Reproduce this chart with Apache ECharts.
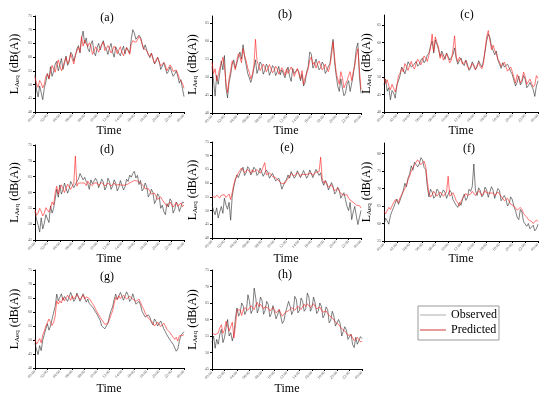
<!DOCTYPE html>
<html><head><meta charset="utf-8">
<script src="https://cdn.jsdelivr.net/npm/echarts@6/dist/echarts.min.js"></script>
<style>html,body{margin:0;padding:0;background:#fff}#c{width:550px;height:397px}</style>
</head><body><div id="c"></div>
<script>
// x tick labels (every 2 hours); readings every 15 minutes
const timeLabels = ['00:00','02:00','04:00','06:00','08:00','10:00','12:00','14:00','16:00','18:00','20:00','22:00','00:00'];
const sampleStepHours = 0.25;

const obsA  = [53.5,48.0,45.5,49.5,47.0,44.5,48.8,51.0,54.0,52.0,56.5,53.0,54.8,57.5,58.5,55.0,57.2,59.5,55.5,57.8,60.4,57.0,58.2,61.8,61.0,58.5,60.5,63.0,64.2,61.5,66.8,69.5,65.0,67.0,63.2,62.0,64.8,66.0,61.8,60.5,63.4,65.0,62.6,64.5,66.0,63.8,62.9,61.0,63.5,65.0,61.8,60.0,63.8,62.5,62.0,60.5,62.4,64.0,61.2,63.5,63.0,61.5,66.5,70.0,68.8,66.5,66.0,68.0,67.2,65.0,62.8,64.5,62.5,61.0,59.8,61.5,59.6,57.5,58.4,60.0,58.5,55.5,56.0,58.0,57.4,54.0,54.8,56.5,56.6,53.0,53.8,55.0,53.0,50.5,51.8,48.5,45.6];
const predA = [52.8,50.2,49.0,51.5,50.5,48.8,50.2,53.0,53.9,52.2,54.8,57.0,56.4,54.5,57.2,59.0,58.8,55.0,56.4,58.5,59.9,57.6,58.9,61.2,60.6,57.5,60.8,62.2,63.6,62.0,67.5,64.0,66.1,64.8,63.8,65.2,64.2,61.0,62.0,63.8,63.0,61.8,63.2,64.6,65.5,62.4,63.2,64.2,63.0,61.5,62.6,64.0,63.0,61.2,62.6,63.8,61.8,60.5,62.0,63.5,62.4,61.0,64.6,66.0,66.7,65.4,66.3,67.5,66.7,64.8,63.2,63.8,62.4,61.0,60.2,61.4,59.4,57.8,59.0,59.8,58.2,56.8,56.5,58.0,57.0,55.0,55.4,57.2,56.4,54.8,54.2,55.3,54.0,52.2,52.3,50.5,48.6];

const obsB  = [53.0,49.0,44.7,50.5,48.0,51.0,54.5,52.0,56.0,47.0,44.2,48.5,50.6,53.5,54.8,52.5,53.8,55.5,57.0,55.0,59.0,55.5,53.4,51.0,49.8,48.5,50.0,52.5,54.8,51.0,52.4,54.2,53.5,50.8,51.8,53.6,52.8,50.5,51.6,53.2,52.6,50.4,51.4,53.0,50.6,52.0,52.4,49.8,51.6,52.8,50.2,48.8,52.4,51.0,50.6,52.2,51.4,49.0,50.8,47.5,48.5,51.5,53.0,57.0,56.4,52.5,53.4,55.0,54.5,52.0,52.6,54.2,53.4,51.0,51.8,53.0,53.8,57.5,60.5,54.0,50.5,47.5,46.0,49.5,47.0,44.8,45.5,48.0,49.0,46.0,46.5,50.5,54.0,58.0,59.5,50.0,45.5];
const predB = [54.2,51.0,52.3,49.0,50.4,52.5,53.7,55.5,53.2,48.5,45.7,49.5,51.8,54.5,53.7,52.0,54.6,56.5,55.6,54.0,57.9,56.0,54.6,52.5,51.3,49.5,50.8,53.0,60.5,54.5,53.2,51.8,52.7,53.6,52.7,51.5,52.3,53.5,52.3,51.2,51.8,53.0,52.3,50.8,51.3,52.6,51.8,50.5,52.3,51.0,50.8,52.8,51.8,50.2,51.3,52.4,50.8,49.5,51.8,48.0,49.9,51.0,52.3,54.8,55.6,53.5,54.2,52.5,53.7,54.5,53.2,52.0,52.7,53.6,52.3,51.5,53.2,56.0,59.8,55.5,51.3,49.5,48.0,51.5,49.9,47.0,47.5,49.0,50.4,51.5,49.0,51.5,53.2,56.0,57.9,52.0,46.6];

const obsC  = [47.8,49.5,46.0,47.0,43.5,46.2,45.5,44.0,47.8,49.0,50.5,53.0,52.2,51.0,52.6,54.5,54.2,53.0,52.5,53.8,54.6,53.2,53.8,55.0,55.6,54.2,55.0,56.4,57.0,59.0,60.5,57.0,60.8,59.5,58.0,56.0,57.6,56.5,55.2,57.0,56.0,55.0,54.6,56.5,58.5,55.5,53.8,54.8,55.6,54.0,53.4,55.0,53.8,52.0,52.6,54.5,53.6,52.2,53.0,54.8,53.8,53.0,54.8,57.5,60.5,62.5,61.5,59.0,58.5,56.5,57.6,55.0,53.8,52.6,54.2,53.0,52.5,53.8,52.8,51.6,50.8,49.0,47.5,48.5,50.4,47.8,48.6,50.5,49.5,47.0,47.6,48.5,49.0,46.5,44.5,47.5,49.0];
const predC = [49.7,48.2,49.3,47.5,46.4,48.0,46.9,45.8,47.3,50.5,51.2,52.5,51.6,54.0,53.1,52.0,53.5,54.6,53.1,52.4,54.0,55.2,54.5,53.6,55.0,56.2,55.5,54.6,56.4,58.5,62.5,57.5,61.7,60.0,58.8,55.5,56.9,55.0,55.9,56.8,55.5,54.2,55.0,58.0,62.0,56.0,54.5,55.8,55.0,53.8,54.0,54.8,53.1,52.4,53.1,54.0,53.1,52.2,53.5,54.2,53.1,52.5,54.0,58.0,61.7,63.5,60.7,58.0,59.3,57.8,56.9,55.2,54.5,53.2,53.5,54.4,53.1,51.8,52.1,53.0,51.6,50.0,48.3,50.8,49.7,48.4,49.3,51.5,50.2,48.0,48.3,49.5,48.3,47.2,47.8,50.5,49.7];

const obsD  = [54.0,51.5,49.8,47.5,52.0,48.5,50.3,53.0,52.5,50.5,55.8,53.5,55.0,58.0,61.0,58.5,62.4,59.5,60.8,63.0,62.6,59.8,61.2,63.5,63.0,61.5,61.0,63.5,64.2,66.0,65.7,64.0,64.8,63.5,62.8,61.0,64.0,62.8,62.2,64.5,63.6,61.5,62.0,64.2,63.4,60.8,61.8,64.5,63.4,61.0,62.0,64.0,63.0,60.5,61.6,63.8,63.2,60.8,61.8,64.2,63.5,65.5,64.8,66.0,66.7,64.6,65.4,62.5,63.8,60.5,61.2,63.0,61.8,58.6,59.4,61.0,60.0,56.5,57.6,59.6,58.8,55.0,56.0,54.0,53.0,56.5,55.4,58.0,57.2,53.5,54.6,57.0,56.2,54.0,55.4,57.0,56.8];
const predD = [54.5,52.8,53.5,55.0,54.0,52.6,53.5,55.2,54.5,53.8,55.1,57.0,56.1,60.0,62.0,59.5,61.4,62.4,62.0,60.0,61.4,62.6,62.0,61.0,62.0,62.8,71.5,62.0,63.0,62.4,63.0,63.6,63.0,62.2,63.6,62.8,63.0,62.2,63.0,63.5,63.0,62.2,62.7,63.2,62.7,62.0,62.5,63.0,62.7,62.0,62.5,63.0,62.3,61.8,62.5,62.8,62.3,61.8,62.3,62.9,62.7,63.0,63.3,63.6,63.8,64.0,63.6,63.4,63.0,62.4,62.0,61.2,60.9,61.2,60.4,59.5,59.3,59.8,58.8,57.8,58.3,58.6,57.7,57.0,56.7,55.6,56.1,57.0,56.7,55.4,56.1,56.8,55.6,56.2,56.7,55.5,56.1];

const obsE  = [52.2,50.0,48.5,51.0,47.3,49.5,51.5,49.0,54.5,52.0,50.5,53.0,46.5,55.0,58.6,61.0,63.0,62.0,63.6,64.8,65.8,62.8,63.8,66.0,65.2,63.0,64.0,65.8,65.0,62.8,63.6,65.5,65.2,62.5,63.0,64.8,64.0,61.8,62.4,63.6,63.2,60.8,61.0,61.8,60.2,57.8,58.4,60.5,61.4,63.0,61.8,64.2,63.8,61.8,62.6,64.5,63.8,62.0,62.6,64.6,63.9,61.8,62.8,64.8,64.4,62.0,62.6,65.0,64.5,62.8,63.8,60.5,59.2,61.0,60.0,57.5,58.0,60.2,58.8,56.0,56.8,58.5,57.4,54.5,55.6,56.5,54.0,51.5,50.0,53.0,46.7,49.5,51.5,48.0,44.9,47.5,50.0];
const predE = [55.2,54.5,54.8,55.6,55.2,54.6,55.6,56.2,55.8,54.8,55.2,56.0,54.0,56.5,59.4,61.5,62.5,63.8,64.3,65.5,64.9,63.8,64.3,65.0,64.5,63.6,64.9,64.0,64.3,65.0,64.3,63.6,64.5,64.0,67.5,63.0,63.3,63.8,63.1,62.4,62.5,62.0,61.9,60.8,60.7,59.8,59.4,60.0,60.7,61.8,62.5,63.5,63.1,62.6,63.3,63.8,63.1,62.5,63.3,63.9,63.1,62.6,63.3,64.0,63.7,62.8,63.1,64.0,63.7,64.2,69.5,61.5,60.0,60.8,59.4,58.6,58.8,59.4,58.2,57.2,57.6,58.2,57.0,56.2,56.4,55.6,55.2,55.8,54.6,53.8,54.0,53.0,52.8,52.0,51.5,51.8,50.9];

const obsF  = [59.7,61.5,60.8,59.8,62.2,63.5,64.6,65.8,67.0,65.5,66.6,68.0,69.4,71.5,70.5,73.0,74.2,76.5,75.2,77.5,78.0,76.2,77.0,78.8,78.2,76.0,75.4,70.5,67.6,69.8,69.0,67.2,67.8,69.8,69.2,67.4,67.9,69.6,69.0,67.2,67.6,69.5,68.8,66.8,67.0,65.2,64.6,66.0,65.2,67.0,68.4,66.6,67.4,69.8,69.2,70.5,77.0,69.5,68.0,70.2,69.4,67.6,68.2,70.4,69.6,67.5,68.0,70.5,69.5,67.2,67.6,70.0,69.4,66.5,66.2,68.0,67.0,65.0,65.8,67.6,66.8,64.8,63.6,61.8,61.1,64.0,63.2,60.5,61.0,59.2,60.0,58.5,58.2,59.5,57.9,58.5,59.8];
const predF = [63.5,62.8,63.3,64.6,64.0,65.0,65.4,66.8,66.3,66.0,67.3,68.2,68.7,70.0,71.1,72.5,73.5,75.0,75.9,76.8,77.3,78.2,77.8,76.8,77.3,77.8,76.3,72.0,68.7,67.6,68.2,69.2,68.7,67.8,68.4,69.0,68.7,67.8,68.2,69.0,73.5,67.8,68.2,68.8,67.8,66.5,65.9,65.0,66.3,67.2,67.8,68.6,68.0,67.6,68.4,69.2,68.7,68.0,68.7,69.4,68.7,68.0,68.7,69.4,68.7,68.2,68.7,69.2,68.7,68.0,68.2,69.0,68.7,67.8,67.3,66.5,66.3,67.2,66.8,65.5,65.9,65.0,64.9,63.8,63.5,64.6,64.0,62.8,62.5,61.8,61.1,61.6,60.6,60.0,60.1,61.0,60.6];

const obsG  = [48.8,46.5,44.8,48.0,46.2,50.0,52.0,54.0,55.8,53.5,55.0,57.5,57.8,62.0,66.4,64.0,65.2,66.5,64.2,65.5,66.0,63.8,64.4,67.0,66.8,63.8,64.6,66.8,66.6,63.8,64.2,66.5,65.8,63.5,64.6,63.0,63.0,61.8,61.0,60.0,59.2,58.0,57.0,55.0,55.2,54.0,54.0,56.0,58.6,60.5,61.8,64.5,66.4,64.5,65.0,67.0,66.8,64.2,64.8,67.2,66.0,63.8,64.6,66.5,66.2,62.8,63.2,63.8,62.4,60.2,59.8,58.2,57.6,59.0,58.2,56.2,55.4,57.5,56.6,55.0,54.8,56.8,56.2,54.0,53.8,51.8,52.2,50.0,50.5,48.5,49.0,46.0,46.8,49.5,51.6,52.0,53.0];
const predG = [50.2,48.5,47.8,50.5,49.0,51.8,53.2,55.0,54.4,57.5,56.8,55.2,56.2,58.5,64.0,62.8,64.0,63.2,65.2,64.0,64.6,66.0,65.2,64.2,65.8,64.6,65.2,66.2,65.8,64.4,65.2,66.0,64.6,65.4,65.8,64.8,64.0,63.0,62.2,61.0,60.4,59.0,58.6,57.2,56.8,55.6,55.0,56.0,57.4,59.0,60.4,63.0,65.2,64.4,65.8,64.8,65.2,66.0,65.8,64.6,64.6,65.6,65.8,64.6,65.2,63.8,64.0,64.6,63.4,62.0,61.0,59.6,58.6,57.8,57.4,56.8,56.2,55.0,55.6,56.4,55.8,54.8,55.3,56.0,55.0,53.8,53.2,52.6,52.0,51.0,50.2,51.0,49.6,51.5,50.8,51.6,52.0];

const obsH  = [53.0,55.0,51.3,54.0,52.5,55.5,57.0,53.0,54.5,57.5,60.0,55.0,56.0,53.5,55.5,60.5,63.5,61.0,62.0,65.0,64.0,61.5,62.6,67.5,65.5,61.8,63.0,69.5,66.5,62.0,63.4,66.8,65.8,61.6,62.8,65.5,64.6,60.8,61.8,64.2,63.8,60.2,61.4,63.0,62.8,58.8,59.6,62.0,62.2,65.5,64.0,61.5,62.6,67.0,66.0,62.0,62.8,66.5,65.5,62.5,63.2,68.0,66.8,62.5,63.6,66.8,65.0,61.8,62.6,65.0,64.0,60.5,61.4,63.8,63.0,59.0,59.8,62.5,61.0,58.0,57.6,60.0,58.8,55.0,55.6,57.8,56.8,54.0,53.6,55.5,52.4,51.5,54.6,52.5,52.0,54.8,54.2];
const predH = [55.9,55.6,55.4,55.8,55.9,57.5,58.4,55.8,56.9,59.5,58.9,56.5,57.9,59.2,54.4,58.0,62.9,63.5,62.9,61.2,62.9,63.6,63.4,62.8,63.4,64.2,63.9,63.0,64.4,65.2,63.9,64.6,64.4,63.2,63.9,64.5,63.4,62.6,62.9,63.6,62.9,62.0,62.4,63.0,61.9,61.0,61.4,62.2,61.9,62.6,62.9,63.6,63.4,62.8,63.4,64.0,63.6,63.0,63.9,64.6,63.9,64.8,64.4,63.6,64.2,64.8,63.9,63.2,63.4,63.8,62.9,62.2,62.4,62.6,61.9,61.2,60.9,60.5,59.9,59.2,58.9,58.5,57.9,57.2,56.9,56.5,55.9,55.2,54.9,55.4,54.4,53.6,53.9,54.6,53.9,53.2,53.4];

const panelLabels = ['(a)','(b)','(c)','(d)','(e)','(f)','(g)','(h)'];
const observedSets = [obsA,obsB,obsC,obsD,obsE,obsF,obsG,obsH];
const predictedSets = [predA,predB,predC,predD,predE,predF,predG,predH];
const yMins = [40,40,40,45,40,55,40,45];
const yMaxs = [75,67,68,75,75,83,75,75];

// layout (pixels)
const layout = [
  {grid:{left:35,top:16,width:149,height:96}, gap:14, title:[107,18], time:[109,131]},
  {grid:{left:212,top:16,width:149,height:97}, gap:13, title:[285,15], time:[286,131]},
  {grid:{left:384,top:15,width:154,height:97}, gap:5, title:[467,15], time:[461,131]},
  {grid:{left:35,top:145,width:149,height:95}, gap:14, title:[107,150], time:[109,259]},
  {grid:{left:212,top:142,width:149,height:96}, gap:13, title:[287,148], time:[286,259]},
  {grid:{left:384,top:143,width:154,height:98}, gap:5, title:[469,149], time:[461,259]},
  {grid:{left:35,top:270,width:149,height:98}, gap:14, title:[107,277], time:[109,389]},
  {grid:{left:212,top:270,width:150,height:99}, gap:13, title:[285,275], time:[287,389]}
];

const serif = 'Liberation Serif';
const grids = [], xAxes = [], yAxes = [], series = [], graphics = [];
layout.forEach((L, i) => {
  grids.push(L.grid);
  xAxes.push({
    type:'value', gridIndex:i, min:0, max:24, interval:2,
    axisLine:{show:true, lineStyle:{color:'#000', width:1}},
    axisTick:{show:true, length:2, lineStyle:{color:'#000'}},
    splitLine:{show:false},
    axisLabel:{rotate:45, fontSize:4, color:'#555', margin:3, fontFamily:serif,
      formatter: v => timeLabels[Math.round(v/2)]}
  });
  yAxes.push({
    type:'value', gridIndex:i, min:yMins[i], max:yMaxs[i], interval:5,
    axisLine:{show:true, lineStyle:{color:'#000', width:1}},
    axisTick:{show:true, length:2, lineStyle:{color:'#000'}},
    splitLine:{show:false},
    axisLabel:{fontSize:4, color:'#555', margin:3, fontFamily:serif, showMaxLabel: (yMaxs[i]-yMins[i])%5===0},
    name:'{m|L}{s|Aeq}{m| (dB(A))}', nameLocation:'middle', nameGap:L.gap, nameRotate:90,
    nameTextStyle:{rich:{m:{fontSize:12, fontFamily:serif, color:'#000'}, s:{fontSize:7, fontFamily:serif, color:'#000', verticalAlign:'bottom'}}}
  });
  series.push({
    name:'Observed', type:'line', xAxisIndex:i, yAxisIndex:i, symbol:'none', silent:true,
    lineStyle:{color:'#2a2a2a', width:0.6}, itemStyle:{color:'#2a2a2a'},
    data: observedSets[i].map((v,k)=>[k*sampleStepHours, v])
  });
  series.push({
    name:'Predicted', type:'line', xAxisIndex:i, yAxisIndex:i, symbol:'none', silent:true,
    lineStyle:{color:'#ff1a1a', width:0.6}, itemStyle:{color:'#ff1a1a'},
    data: predictedSets[i].map((v,k)=>[k*sampleStepHours, v])
  });
  graphics.push({type:'text', x:L.title[0], y:L.title[1], style:{text:panelLabels[i], textAlign:'center', textVerticalAlign:'middle', fontSize:12, fontFamily:serif, fill:'#000'}});
  graphics.push({type:'text', x:L.time[0], y:L.time[1], style:{text:'Time', textAlign:'center', textVerticalAlign:'middle', fontSize:12, fontFamily:serif, fill:'#000'}});
});

const chart = echarts.init(document.getElementById('c'), null, {renderer:'canvas'});
chart.setOption({
  animation:false,
  backgroundColor:'#fff',
  grid:grids, xAxis:xAxes, yAxis:yAxes, series:series,
  graphic:graphics,
  legend:{
    left:418, top:306, orient:'vertical', icon:'rect', itemWidth:26, itemHeight:1.5, itemGap:3,
    padding:[3,2,4,2], borderColor:'#999', borderWidth:1,
    textStyle:{fontSize:12, fontFamily:serif, color:'#000', lineHeight:12},
    data:[{name:'Observed', itemStyle:{color:'#c8c8c8'}}, {name:'Predicted', itemStyle:{color:'#e07a7a'}}]
  }
});
</script></body></html>
